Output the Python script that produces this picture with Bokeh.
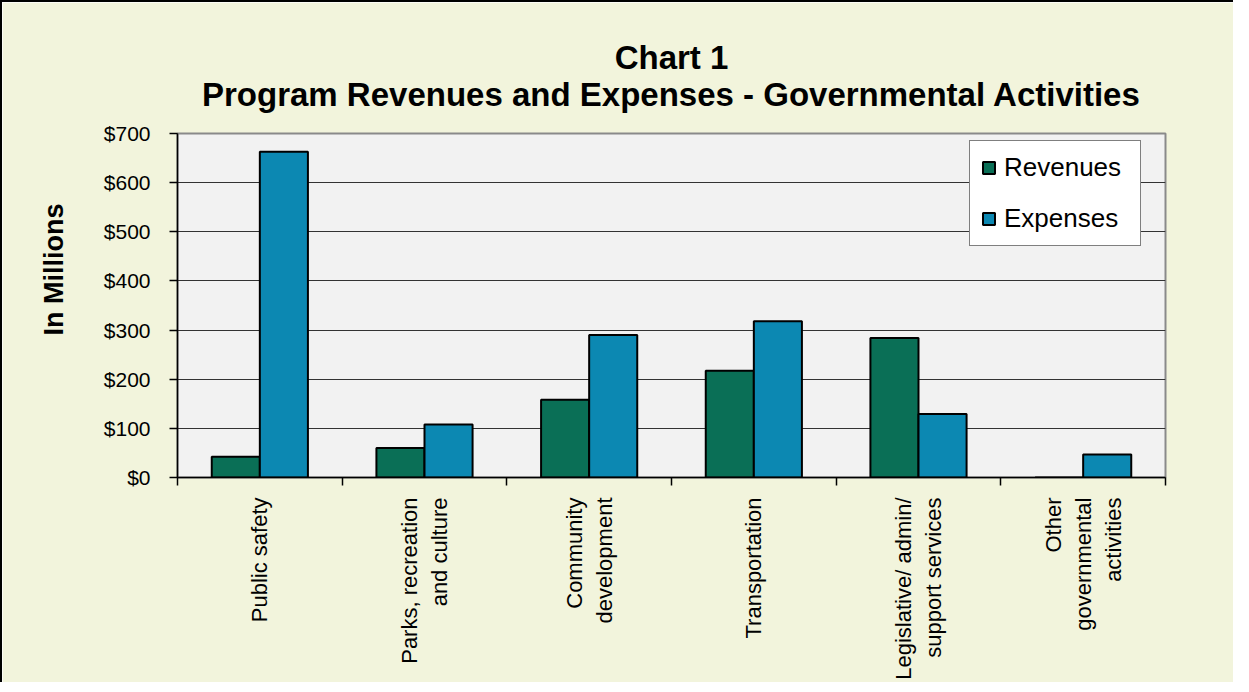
import math
import numpy as np
from bokeh.plotting import figure
from bokeh.models import (ColumnDataSource, Range1d, FixedTicker, NumeralTickFormatter,
                          Title, Legend, LegendItem)
from bokeh.transform import dodge
from bokeh.embed import file_html
from bokeh.resources import INLINE

# ---- data ----
categories = ["Public safety", "Parks, recreation\nand culture", "Community\ndevelopment",
              "Transportation", "Legislative/ admin/\nsupport services",
              "Other\ngovernmental\nactivities"]
revenues = [42, 60, 158, 217, 284, 0]
expenses = [663, 108, 290, 318, 129, 47]
y_ticks = [0, 100, 200, 300, 400, 500, 600, 700]

FONT = "Liberation Sans"
GREEN = "#0a6f56"
BLUE = "#0c88b2"
OUTER_BG = "#f2f4dc"
PLOT_BG = "#f2f2f2"

centers = [i + 0.5 for i in range(len(categories))]
src = ColumnDataSource(dict(x=centers, rev=revenues, exp=expenses))

p = figure(width=1231, height=674, output_backend="svg", toolbar_location=None,
           x_range=Range1d(0, len(categories)), y_range=Range1d(0, 700),
           frame_width=988, frame_height=344,
           min_border_left=175, min_border_right=68, min_border_top=131, min_border_bottom=199,
           background_fill_color=PLOT_BG, border_fill_color=OUTER_BG,
           styles={"border-top": "2px solid #000", "border-left": "2px solid #000"})

bw = 0.292
r_rev = p.vbar(x=dodge("x", -bw / 2, range=p.x_range), top="rev", width=bw, source=src,
               fill_color=GREEN, line_color="black", line_width=2)
r_exp = p.vbar(x=dodge("x", bw / 2, range=p.x_range), top="exp", width=bw, source=src,
               fill_color=BLUE, line_color="black", line_width=2)

# ---- axes ----
p.xaxis.ticker = FixedTicker(ticks=centers, minor_ticks=list(range(len(categories) + 1)))
p.xaxis.major_label_overrides = {c: lab for c, lab in zip(centers, categories)}
p.xaxis.major_label_orientation = math.pi / 2
p.xaxis.major_tick_line_color = None
p.xaxis.major_tick_out = 0
p.xaxis.major_tick_in = 0
p.xaxis.minor_tick_out = 8
p.xaxis.minor_tick_in = 0
p.xaxis.minor_tick_line_color = "black"
p.xaxis.minor_tick_line_width = 1.5
p.xaxis.major_label_standoff = 12
p.xaxis.major_label_text_font = FONT
p.xaxis.major_label_text_font_size = "22px"
p.xaxis.major_label_text_color = "black"
p.xaxis.axis_line_color = "black"
p.xaxis.axis_line_width = 1.5

p.yaxis.ticker = FixedTicker(ticks=y_ticks)
p.yaxis.formatter = NumeralTickFormatter(format="$0,0")
p.yaxis.major_tick_out = 8
p.yaxis.major_tick_in = 0
p.yaxis.minor_tick_line_color = None
p.yaxis.major_tick_line_width = 1.5
p.yaxis.major_label_standoff = 19
p.yaxis.major_label_text_font = FONT
p.yaxis.major_label_text_font_size = "21px"
p.yaxis.major_label_text_color = "black"
p.yaxis.axis_line_color = "black"
p.yaxis.axis_line_width = 1.5

p.xgrid.grid_line_color = None
p.ygrid.grid_line_color = "#333333"
p.ygrid.grid_line_width = 1.2
p.outline_line_color = "#8a8a8a"
p.outline_line_width = 2

# ---- titles ----
t = Title(text="Chart 1\nProgram Revenues and Expenses - Governmental Activities",
          align="center", text_font=FONT, text_font_size="33px",
          text_font_style="bold", text_color="black")
try:
    t.text_align = "center"
except Exception:
    pass
try:
    t.standoff = 42
except Exception:
    pass
p.add_layout(t, "above")

ylab = Title(text="In Millions", align="left", offset=142,
             text_font=FONT, text_font_size="27px", text_font_style="bold",
             text_color="black")
try:
    ylab.standoff = 64
except Exception:
    pass
p.add_layout(ylab, "left")

# ---- legend ----
legend = Legend(items=[LegendItem(label="Revenues", renderers=[r_rev]),
                       LegendItem(label="Expenses", renderers=[r_exp])],
                location=(792, 231))
legend.glyph_width = 15
legend.glyph_height = 15
legend.label_height = 26
legend.label_width = 125
legend.label_standoff = 8
legend.spacing = 20
legend.padding = 11
legend.margin = 0
legend.label_text_font = FONT
legend.label_text_font_size = "26px"
legend.label_text_color = "black"
legend.border_line_color = "black"
legend.border_line_width = 1.5
legend.background_fill_color = "white"
legend.background_fill_alpha = 1
p.add_layout(legend)

open("out.html", "w").write(file_html(p, INLINE))
